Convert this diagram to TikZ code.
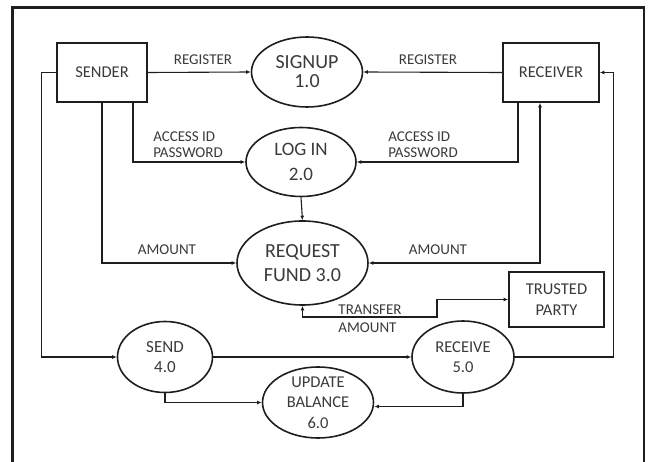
\documentclass[tikz,border=0pt]{standalone}
\usepackage{fontspec}
\setmainfont{Carlito}
\usetikzlibrary{shapes.geometric,arrows.meta}
\definecolor{ink}{HTML}{1E1E1E}
\definecolor{txt}{HTML}{3A3A3A}
\tikzset{
  entity/.style={draw=ink, line width=1.8pt, rectangle, inner sep=0pt, text=txt, align=center},
  process/.style={draw=ink, line width=1.6pt, ellipse, inner sep=0pt, text=txt, align=center},
  flow/.style={draw=ink, line width=1.1pt, -{Latex[length=4.5pt,width=4pt]}},
  dflow/.style={draw=ink, line width=1.1pt, {Latex[length=4.5pt,width=4pt]}-{Latex[length=4.5pt,width=4pt]}},
  lbl/.style={text=txt, inner sep=0pt, align=left, font=\fontsize{15}{16}\selectfont},
}
\begin{document}
\begin{tikzpicture}[x=1pt,y=-1pt]
\useasboundingbox (0,0) rectangle (649,462);
% outer frame, open at the bottom
\draw[ink, line width=2.2pt] (12.5,462) -- (12.5,7.5) -- (644,7.5) -- (644,462);

% external entities
\node[entity, minimum width=90pt, minimum height=59pt, font=\fontsize{16.5}{18}\selectfont] (sender) at (102,72.5) {SENDER};
\node[entity, minimum width=96pt, minimum height=59pt, font=\fontsize{16.5}{18}\selectfont] (receiver) at (551,72.5) {RECEIVER};
\node[entity, minimum width=95pt, minimum height=55pt, font=\fontsize{16.5}{21}\selectfont] (trusted) at (556.5,299.5) {TRUSTED\\PARTY};

% processes
\node[process, minimum width=111pt, minimum height=70pt, font=\fontsize{20}{19}\selectfont] (signup) at (307,72) {SIGNUP\\1.0};
\node[process, minimum width=110pt, minimum height=69pt, font=\fontsize{19}{25}\selectfont] (login) at (301,162) {LOG IN\\2.0};
\node[process, minimum width=131pt, minimum height=84pt, font=\fontsize{20}{24}\selectfont] (request) at (302.5,263) {REQUEST\\FUND 3.0};
\node[process, minimum width=95pt, minimum height=71pt, font=\fontsize{17}{20}\selectfont] (send) at (165,357) {SEND\\4.0};
\node[process, minimum width=102pt, minimum height=72pt, font=\fontsize{16.5}{20}\selectfont] (receive) at (463,357) {RECEIVE\\5.0};
\node[process, minimum width=111pt, minimum height=71pt, inner sep=-10pt, font=\fontsize{16.5}{20.5}\selectfont] (update) at (318,402.5) {UPDATE\\BALANCE\\6.0};

% data flows
\draw[flow] (sender.east) -- (signup.west);
\draw[flow] (receiver.west) -- (signup.east);
\draw[flow] ([xshift=31pt]sender.south) |- (login.west);
\draw[flow] ([xshift=-33pt]receiver.south) |- (login.east);
\draw[flow] (login.south) -- (request.north);
\draw[flow] (sender.south) |- (request.west);
\draw[dflow] (request.east) -| ([xshift=-11pt]receiver.south);
\coordinate (tbend) at (437,317);
\draw[dflow] (request.south) |- (tbend) |- (trusted.west);
\draw[flow] (sender.west) -- ++(-15,0) |- (send.west);
\draw[flow] (send.east) -- (receive.west);
\draw[flow] (receive.east) -- ++(99,0) |- (receiver.east);
\draw[flow] (send.south) |- (update.west);
\draw[flow] (receive.south) |- ([yshift=-4pt]update.east);

% flow labels
\node[lbl] (l1) at (203,60) {REGISTER};
\node[lbl] (l2) at (428,60) {REGISTER};
\node[lbl] (l3) at (188,145) {ACCESS ID\\PASSWORD};
\node[lbl] (l4) at (423,145) {ACCESS ID\\PASSWORD};
\node[lbl] (l5) at (167,250) {AMOUNT};
\node[lbl] (l6) at (438,250) {AMOUNT};
\node[lbl, font=\fontsize{15}{18}\selectfont] (l7) at (370,319) {TRANSFER\\AMOUNT};
\end{tikzpicture}
\end{document}
